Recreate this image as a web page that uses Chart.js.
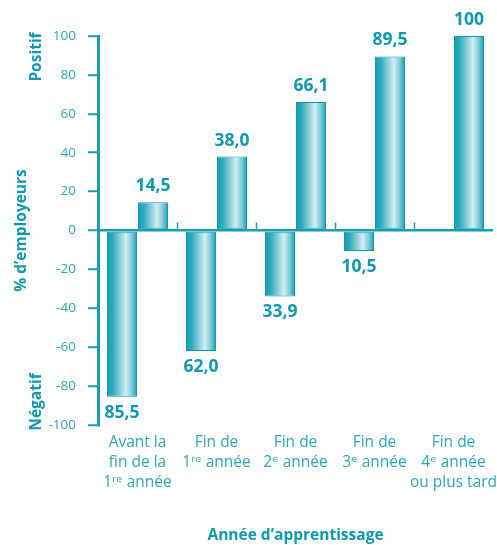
<!DOCTYPE html>
<html>
<head>
<meta charset="utf-8">
<script src="https://cdn.jsdelivr.net/npm/chart.js@4/dist/chart.umd.min.js"></script>
<style>
html,body{margin:0;padding:0;background:#ffffff;}
#wrap{width:497px;height:545px;position:relative;}
</style>
</head>
<body>
<div id="wrap"><canvas id="c"></canvas></div>
<script>
// ---- data ----
const categories = [
  ["Avant la", "fin de la", "1ʳᵉ année"],
  ["Fin de", "1ʳᵉ année"],
  ["Fin de", "2ᵉ année"],
  ["Fin de", "3ᵉ année"],
  ["Fin de", "4ᵉ année", "ou plus tard"]
];
const negativeValues = [-85.5, -62.0, -33.9, -10.5, null];
const positiveValues = [14.5, 38.0, 66.1, 89.5, 100];
const yMin = -100, yMax = 100, yStep = 20;
const yTitle = "% d’employeurs";
const xTitle = "Année d’apprentissage";
const topSideLabel = "Positif";
const bottomSideLabel = "Négatif";

// ---- style ----
const TEAL = '#189db2';
const TEAL_TEXT = '#0f99ae';
const TEAL_LIGHT = '#2ea7b9';
const FONT = "'Open Sans', 'DejaVu Sans', sans-serif";

function fmt(v) {
  const a = Math.abs(v);
  return a >= 100 ? String(a) : a.toFixed(1).replace('.', ',');
}

const gradientBars = {
  id: 'gradientBars',
  beforeDatasetsDraw(chart) {
    const ctx = chart.ctx;
    chart.data.datasets.forEach((ds, i) => {
      chart.getDatasetMeta(i).data.forEach((el) => {
        if (!el || isNaN(el.x) || !el.width) return;
        const x0 = el.x - el.width / 2, x1 = el.x + el.width / 2;
        const g = ctx.createLinearGradient(x0, 0, x1, 0);
        g.addColorStop(0, '#129db1');
        g.addColorStop(0.18, '#2eaabb');
        g.addColorStop(0.45, '#8ed0db');
        g.addColorStop(0.63, '#d4eef3');
        g.addColorStop(0.82, '#7fcbd7');
        g.addColorStop(1, '#169fb3');
        el.options.backgroundColor = g;
      });
    });
  }
};

const valueLabels = {
  id: 'valueLabels',
  afterDatasetsDraw(chart) {
    const ctx = chart.ctx;
    ctx.save();
    ctx.font = "bold 17.5px " + FONT;
    ctx.fillStyle = TEAL_TEXT;
    ctx.textAlign = 'center';
    ctx.textBaseline = 'middle';
    chart.data.datasets.forEach((ds, i) => {
      chart.getDatasetMeta(i).data.forEach((el, j) => {
        const v = ds.data[j];
        if (v === null || v === undefined) return;
        const y = v >= 0 ? el.y - 16 : el.y + 16;
        ctx.fillText(fmt(v), el.x, y);
      });
    });
    ctx.restore();
  }
};

const decorations = {
  id: 'decorations',
  afterDraw(chart) {
    const ctx = chart.ctx;
    const xs = chart.scales.x, ys = chart.scales.y;
    const zeroY = ys.getPixelForValue(0);
    ctx.save();
    ctx.strokeStyle = TEAL;
    ctx.lineWidth = 1.5;
    for (let i = 1; i < categories.length; i++) {
      const px = Math.round((xs.getPixelForValue(i - 1) + xs.getPixelForValue(i)) / 2) + 0.5;
      ctx.beginPath();
      ctx.moveTo(px, zeroY);
      ctx.lineTo(px, zeroY - 8);
      ctx.stroke();
    }
    ctx.font = "bold 15.5px " + FONT;
    ctx.fillStyle = TEAL_TEXT;
    ctx.textAlign = 'center';
    ctx.textBaseline = 'middle';
    ctx.save();
    ctx.translate(37, 57);
    ctx.rotate(-Math.PI / 2);
    ctx.fillText(topSideLabel, 0, 0);
    ctx.restore();
    ctx.save();
    ctx.translate(37, 402);
    ctx.rotate(-Math.PI / 2);
    ctx.fillText(bottomSideLabel, 0, 0);
    ctx.restore();
    ctx.restore();
  }
};

Chart.defaults.font.family = FONT;

new Chart(document.getElementById('c'), {
  type: 'bar',
  data: {
    labels: categories,
    datasets: [
      { data: negativeValues, backgroundColor: () => '#5bbccb', borderColor: '#1598ac', borderWidth: 1, borderSkipped: false },
      { data: positiveValues, backgroundColor: () => '#5bbccb', borderColor: '#1598ac', borderWidth: 1, borderSkipped: false }
    ]
  },
  options: {
    responsive: true,
    maintainAspectRatio: false,
    animation: false,
    events: [],
    layout: { padding: { top: 36, right: 4, left: 0, bottom: 0 } },
    datasets: { bar: { categoryPercentage: 0.785, barPercentage: 0.968 } },
    plugins: { legend: { display: false }, tooltip: { enabled: false } },
    scales: {
      x: {
        grid: { display: false, drawTicks: false },
        border: { display: false },
        ticks: {
          color: TEAL_LIGHT,
          font: { size: 15.5, lineHeight: 1.29 },
          padding: 8,
          maxRotation: 0,
          autoSkip: false
        },
        title: {
          display: true,
          text: xTitle,
          color: TEAL_TEXT,
          font: { size: 15.5, weight: 'bold' },
          padding: { top: 0, bottom: 0 }
        },
        afterFit(scale) {
          scale.height = 120;
          scale.paddingLeft = 0;
          scale.paddingRight = 0;
        }
      },
      y: {
        min: yMin,
        max: yMax,
        grid: {
          display: true,
          drawOnChartArea: true,
          drawTicks: true,
          tickLength: 10,
          color: (c) => (c.tick && c.tick.value === 0 ? TEAL : 'rgba(0,0,0,0)'),
          tickColor: TEAL,
          lineWidth: 2.5,
          tickWidth: 2
        },
        border: { display: true, color: TEAL, width: 3 },
        ticks: {
          stepSize: yStep,
          color: TEAL_LIGHT,
          font: { size: 13.5 },
          padding: 12
        },
        title: {
          display: true,
          text: yTitle,
          color: TEAL_TEXT,
          font: { size: 15.5, weight: 'bold' },
          padding: { top: 12, bottom: 0 }
        },
        afterFit(scale) { scale.width = 98; }
      }
    }
  },
  plugins: [gradientBars, valueLabels, decorations]
});
</script>
</body>
</html>
